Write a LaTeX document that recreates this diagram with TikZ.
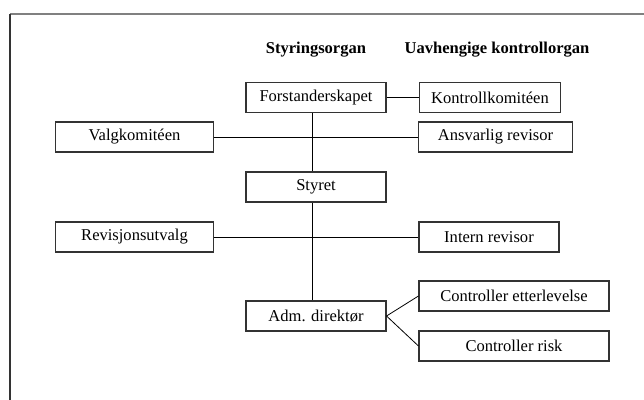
\documentclass[tikz,border=0pt]{standalone}
\usepackage{fontspec}
\setmainfont{Liberation Serif}
\usetikzlibrary{positioning}
\tikzset{
  boks/.style={draw=black!80, line width=0.8pt, minimum height=22.5pt, inner sep=0pt,
    font=\fontsize{12.4}{14}\selectfont},
  overskrift/.style={font=\fontsize{12.4}{14}\selectfont\bfseries},
  linje/.style={black, line width=0.6pt}
}
\begin{document}
\begin{tikzpicture}[x=0.75pt,y=-0.75pt]
        \useasboundingbox (0,0) rectangle (644,400);
        \draw[gray, line width=1.5pt] (10,14) -- (644,14);
        \draw[black!80, line width=1.5pt] (10,14) -- (10,400);

        \node[overskrift] (hstyr) at (316,50) {Styringsorgan};
        \node[overskrift] (huavh) at (497,50) {Uavhengige kontrollorgan};

        \node[boks, minimum width=105pt] (forst) at (316,97.5) {Forstanderskapet};
        \node[boks, minimum width=106pt] (kontr) at (490,97.5) {Kontrollkomitéen};
        \node[boks, minimum width=118pt] (valg) at (134.5,137) {Valgkomitéen};
        \node[boks, minimum width=115pt] (ansv) at (495.5,137) {Ansvarlig revisor};
        \node[boks, minimum width=105pt] (styret) at (316,187) {Styret};
        \node[boks, minimum width=118pt] (revu) at (134.5,237) {Revisjonsutvalg};
        \node[boks, minimum width=105pt] (intern) at (489,237) {Intern revisor};
        \node[boks, minimum width=142.5pt] (cetter) at (514,296) {Controller etterlevelse};
        \node[boks, minimum width=105pt] (adm) at (316,316) {Adm. direktør};
        \node[boks, minimum width=142.5pt] (crisk) at (514,346) {Controller risk};

        % hovedlinje litt til venstre for midten
        \draw[linje] ([xshift=-3pt]forst.south) -- ([xshift=-3pt]styret.north);
        \draw[linje] ([xshift=-3pt]styret.south) -- ([xshift=-3pt]adm.north);

        \draw[linje] (forst) -- (kontr);
        \draw[linje] (valg) -- (ansv);
        \draw[linje] (revu) -- (intern);
        \draw[linje] (adm.east) -- (cetter.west);
        \draw[linje] (adm.east) -- (crisk.west);
\end{tikzpicture}
\end{document}
